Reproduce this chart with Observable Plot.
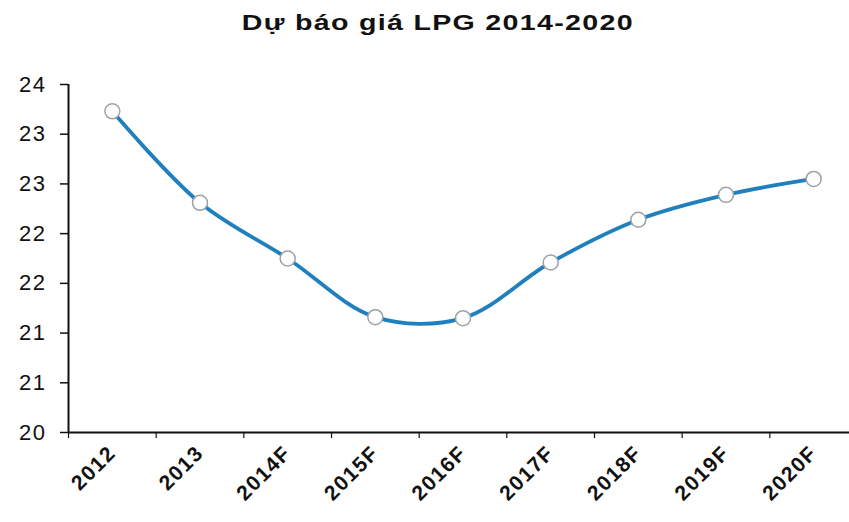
<!DOCTYPE html>
<html>
<head>
<meta charset="utf-8">
<script src="https://cdn.jsdelivr.net/npm/d3@7"></script>
<script src="https://cdn.jsdelivr.net/npm/@observablehq/plot@0.6"></script>
<style>
  html, body { margin: 0; padding: 0; background: #fff; }
  #title { height: 44px; line-height: 46px; text-align: center; width: 875px; }
  #title span { display: inline-block; transform: scaleX(1.3); font-family: "Liberation Sans", Arial, sans-serif; font-weight: bold; font-size: 22px; letter-spacing: 1px; color: #111; }
  #chart svg { display: block; }
  .ylab text { letter-spacing: 1.5px; }
  .xlab text { letter-spacing: 1.5px; }
</style>
</head>
<body>
<div id="title"><span>Dự báo giá LPG 2014-2020</span></div>
<div id="chart"></div>
<script>
const categories = ["2012", "2013", "2014F", "2015F", "2016F", "2017F", "2018F", "2019F", "2020F"];
const prices = [23.23, 22.31, 21.75, 21.16, 21.15, 21.71, 22.14, 22.39, 22.55];
const yTicks = [20, 20.5, 21, 21.5, 22, 22.5, 23, 23.5];

const data = categories.map((c, i) => ({i, c, v: prices[i]}));
const idx = d3.range(categories.length);
const bounds = d3.range(categories.length + 1).map(k => k - 0.5);

const chart = Plot.plot({
  width: 849,
  height: 478,
  marginLeft: 68,
  marginTop: 40,
  marginBottom: 90,
  marginRight: 0,
  style: {fontFamily: "'Liberation Sans', Arial, sans-serif", color: "#111", background: "#fff"},
  x: {type: "linear", domain: [-0.5, categories.length - 0.5], range: [68, 857]},
  y: {domain: [20, 23.5]},
  marks: [
    Plot.axisY({ticks: yTicks, tickFormat: d => d.toFixed(0), tickSize: 8, tickPadding: 14, fontSize: 22, label: null, stroke: "#111", strokeWidth: 1.5, className: "ylab"}),
    Plot.axisX({ticks: bounds, tickFormat: () => "", tickSize: 6, label: null, stroke: "#111", strokeWidth: 1.2}),
    Plot.axisX({ticks: idx, tickFormat: i => categories[i], tickSize: 0, tickPadding: 17, tickRotate: -45, fontSize: 21, fontWeight: "bold", label: null, className: "xlab"}),
    Plot.ruleY([20], {stroke: "#111", strokeWidth: 2}),
    Plot.ruleX([-0.5], {stroke: "#111", strokeWidth: 2}),
    Plot.line(data, {x: "i", y: "v", curve: "catmull-rom", stroke: "#1f80bd", strokeWidth: 3.8}),
    Plot.dot(data, {x: "i", y: "v", r: 7.5, fill: "white", stroke: "#9aa3a8", strokeWidth: 1.5})
  ]
});
document.getElementById("chart").appendChild(chart);
</script>
</body>
</html>
